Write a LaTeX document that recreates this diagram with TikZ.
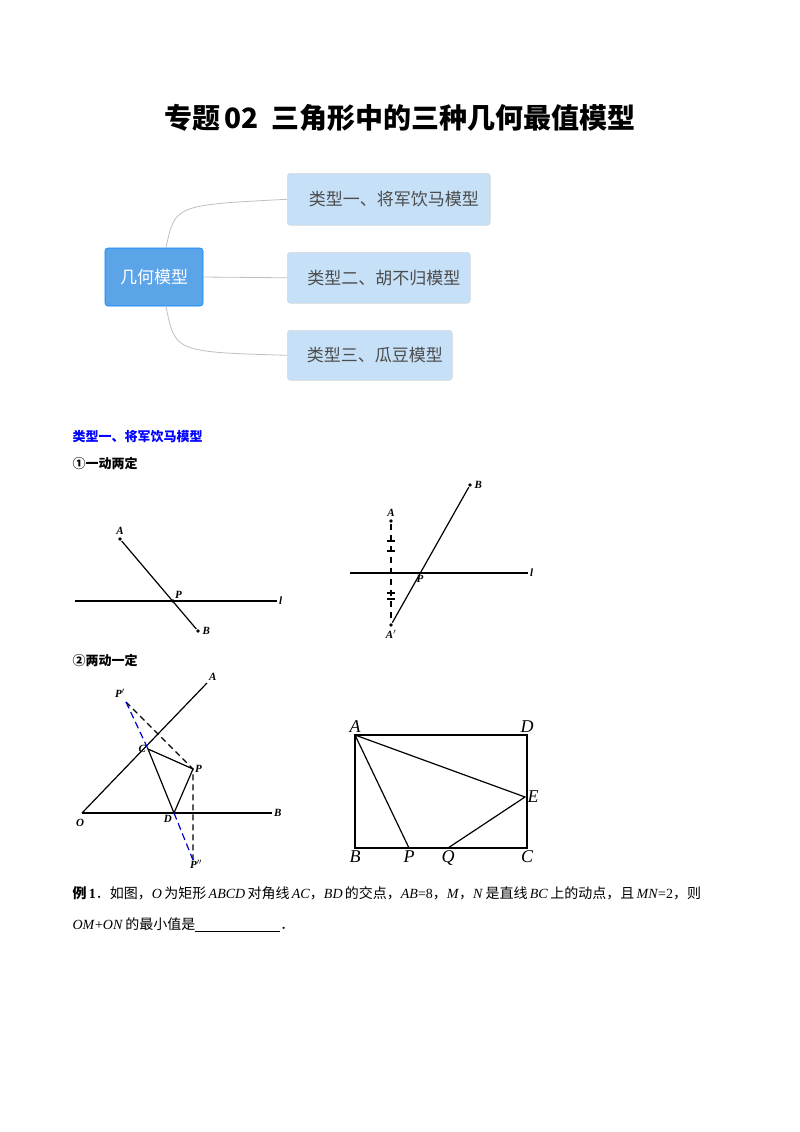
\documentclass[tikz,border=0pt]{standalone}
\usepackage{fontspec}
\setmainfont{Liberation Serif}
\newfontfamily\cjk{Noto Sans CJK SC}
\definecolor{rootc}{HTML}{5CA4E8}
\definecolor{childc}{HTML}{C6E0F7}
\begin{document}
\begin{tikzpicture}[x=1pt,y=-1pt,
  line width=1.2pt,
  dot/.style={circle,fill,inner sep=1.4pt},
  lab/.style={font=\bfseries\itshape\fontsize{11}{11}\selectfont,inner sep=1.5pt},
  labr/.style={font=\itshape\fontsize{18}{18}\selectfont,inner sep=2pt},
  child/.style={draw=black!15,line width=0.6pt,fill=childc,rounded corners=3pt,anchor=north west,font=\cjk\fontsize{17}{17}\selectfont,text=black!70,inner sep=0pt},
  conn/.style={draw=black!25,line width=0.8pt},
  txt/.style={font=\fontsize{14}{14}\selectfont,anchor=west,inner sep=0pt}]
\useasboundingbox (0,0) rectangle (800,1132);
\node[font=\cjk\bfseries\fontsize{28}{28}\selectfont] (title) at (400,118) {专题\,\textbf{02}\ \ 三角形中的三种几何最值模型};
% mind map
\node[draw=blue!50!cyan,line width=0.6pt,fill=rootc,rounded corners=3pt,minimum width=98pt,minimum height=58pt,text=white,font=\cjk\fontsize{17}{17}\selectfont] (root) at (154,277) {几何模型};
\node[child,minimum width=203pt,minimum height=52pt] (c1) at (287,173) {\hspace{10pt}类型一、将军饮马模型};
\node[child,minimum width=183pt,minimum height=51pt] (c2) at (287,252) {\hspace{10pt}类型二、胡不归模型};
\node[child,minimum width=165pt,minimum height=50pt] (c3) at (287,330) {\hspace{10pt}类型三、瓜豆模型};
\draw[conn] (root.north)+(12,0) .. controls (175,205) .. (c1.west);
\draw[conn] (root.east) -- (c2.west);
\draw[conn] (root.south)+(12,0) .. controls (175,352) .. (c3.west);
% headings
\node[txt,text=blue,font=\cjk\bfseries\fontsize{13}{13}\selectfont] (h1) at (72,437) {类型一、将军饮马模型};
\node[txt,font=\cjk\bfseries\fontsize{13}{13}\selectfont] (h2) at (72,463) {①一动两定};
\node[txt,font=\cjk\bfseries\fontsize{13}{13}\selectfont] (h3) at (72,660) {②两动一定};
% fig 1
\coordinate (l1a) at (75,601); \coordinate (l1b) at (277,601);
\node[dot] (A1) at (120,539) {}; \node[dot] (P1) at (173,601) {}; \node[dot] (B1) at (198,631) {};
\draw (l1a) -- (l1b); \draw (A1) -- (B1);
\node[lab,above] at (A1.north) {A}; \node[lab,above right] at (P1) {P};
\node[lab,right] at (B1.east) {B}; \node[lab,right] at (l1b) {l};
% fig 2
\coordinate (l2a) at (350,573); \coordinate (l2b) at (528,573);
\node[dot] (A2) at (391,521) {}; \node[dot] (A2p) at (391,625) {}; \node[dot] (B2) at (470,485) {};
\coordinate (P2) at (420,573);
\draw (l2a) -- (l2b); \draw (A2p) -- (B2);
\draw[dash pattern=on 6pt off 5pt] (A2) -- (A2p);
\foreach \y in {541,551,593,599} \draw (387,\y) -- (395,\y);
\node[lab,above] at (A2.north) {A}; \node[lab,below] at (P2) {P};
\node[lab,right] at (B2.east) {B}; \node[lab,right] at (l2b) {l};
\node[lab,below] at (A2p.south) {A$'$};
% fig 3
\coordinate (O3) at (82,813); \coordinate (B3) at (272,813); \coordinate (A3) at (207,683);
\coordinate (C3) at (148,749); \coordinate (P3) at (193,769); \coordinate (D3) at (174,813);
\coordinate (Pp) at (126,702); \coordinate (Ppp) at (193,860);
\draw (O3) -- (B3); \draw (O3) -- (A3);
\draw (C3) -- (P3) -- (D3) -- cycle;
\draw[dash pattern=on 6pt off 4pt] (Pp) -- (P3) -- (Ppp);
\draw[dash pattern=on 7pt off 4pt,blue!80!black] (Pp) -- (C3);
\draw[dash pattern=on 7pt off 4pt,blue!80!black] (D3) -- (Ppp);
\node[lab,below] at (80,817) {O};
\node[lab,right] at (B3) {B}; \node[lab,above right] at (A3) {A};
\node[lab,left] at (C3) {C}; \node[lab,right] at (P3) {P};
\node[lab,below left] at (D3) {D}; \node[lab,above] at (120,700) {P$'$};
\node[lab,below right] at (188,858) {P$''$};
% fig 4
\coordinate (A4) at (355,735); \coordinate (D4) at (527,735); \coordinate (C4) at (527,848);
\coordinate (B4) at (355,848); \coordinate (E4) at (525,797); \coordinate (P4) at (409,848); \coordinate (Q4) at (448,848);
\draw (A4) rectangle (C4);
\draw (P4) -- (A4) -- (E4) -- (Q4);
\node[labr,above] at (A4) {A}; \node[labr,above] at (D4) {D}; \node[labr,right] at (E4) {E};
\node[labr,below] at (B4) {B}; \node[labr,below] at (P4) {P}; \node[labr,below] at (Q4) {Q}; \node[labr,below] at (C4) {C};
% example
\node[txt] (ex1) at (72,893) {{\cjk\bfseries 例}\,\textbf{1}{\cjk ．如图，}\textit{O}\,{\cjk 为矩形}\,\textit{ABCD}\,{\cjk 对角线}\,\textit{AC}{\cjk ，}\textit{BD}\,{\cjk 的交点，}\textit{AB}=8{\cjk ，}\textit{M}{\cjk ，}\textit{N}\,{\cjk 是直线}\,\textit{BC}\,{\cjk 上的动点，且}\,\textit{MN}=2{\cjk ，则}};
\node[txt] (ex2) at (72,925) {\textit{OM}+\textit{ON}\,{\cjk 的最小值是}\rule[-2pt]{85pt}{0.5pt}{\cjk ．}};
\end{tikzpicture}
\end{document}
